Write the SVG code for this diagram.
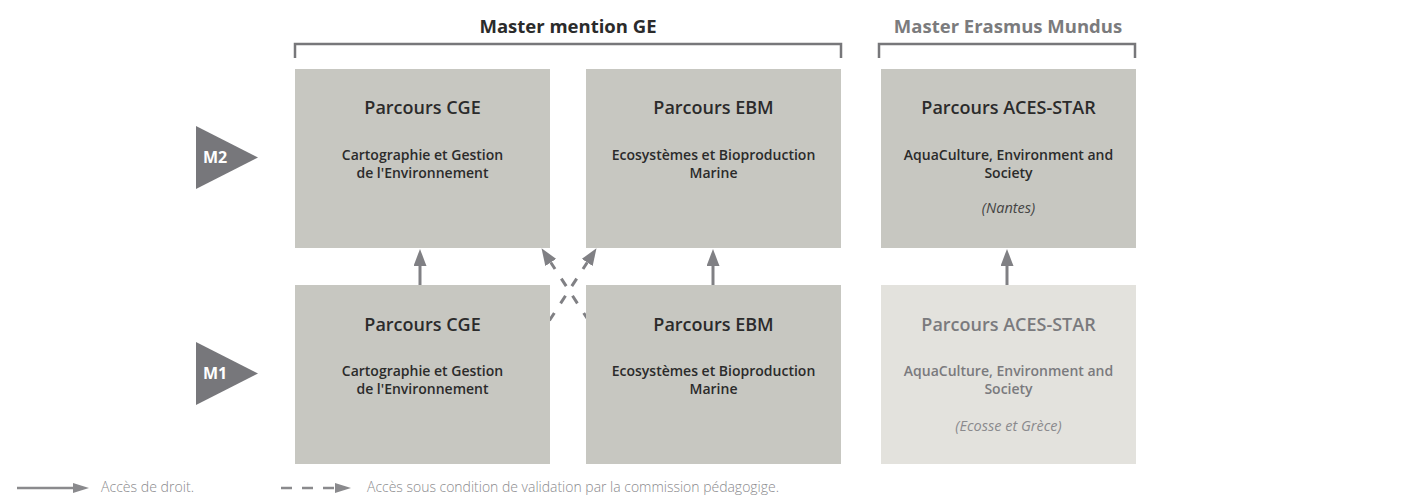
<svg xmlns="http://www.w3.org/2000/svg" width="1419" height="497" viewBox="0 0 1419 497">
<style>
.box{fill:#c7c7c1}
.boxl{fill:#e3e2dd}
.t{font-family:"Open Sans","Noto Sans","Liberation Sans",sans-serif;text-anchor:middle}
.ttl{font-size:18px;font-weight:600;fill:#2b2b2b}
.sub{font-size:14px;font-weight:600;fill:#2b2b2b}
.it{font-size:14.5px;font-style:italic;fill:#444}
.lt{fill:#7a7a7d}
.head{font-size:18.5px;font-weight:700}
.lvl{font-size:16px;font-weight:700;fill:#fff}
.tri{fill:#77777b}
.br{fill:none;stroke:#77777a;stroke-width:2.5}
.ar{stroke:#808084;stroke-width:3;fill:none}
.dash{stroke-dasharray:9 11.5}
.leg{font-family:"Open Sans","Noto Sans","Liberation Sans",sans-serif;font-size:14px;font-weight:300;fill:#8a8a8d}
</style>
<defs>
<marker id="ah" viewBox="0 0 17 13" refX="0" refY="6.5" markerWidth="17" markerHeight="13" markerUnits="userSpaceOnUse" orient="auto">
<path d="M0,0 L17,6.5 L0,13 z" fill="#808084"/>
</marker>
<marker id="ahs" viewBox="0 0 16 10" refX="0" refY="5" markerWidth="16" markerHeight="10" markerUnits="userSpaceOnUse" orient="auto">
<path d="M0,0 L16,5 L0,10 z" fill="#8a8a8d"/>
</marker>
</defs>

<g id="headers">
<text class="t head" x="568" y="33" fill="#2b2b2b">Master mention GE</text>
<path class="br" d="M295,58 V44 H841 V58"/>
<text class="t head" x="1008" y="33" fill="#7b7b7d">Master Erasmus Mundus</text>
<path class="br" d="M879,58 V44 H1135 V58"/>
</g>

<g id="connectors">
<line class="ar" x1="420" y1="285" x2="420" y2="266" marker-end="url(#ah)"/>
<line class="ar" x1="713" y1="285" x2="713" y2="266" marker-end="url(#ah)"/>
<line class="ar" x1="1007" y1="285" x2="1007" y2="266" marker-end="url(#ah)"/>
<path class="ar dash" d="M549.4,320.5 L587.2,262.5" marker-end="url(#ah)"/>
<path class="ar dash" d="M588.6,320.5 L550.8,262.5" marker-end="url(#ah)"/>
</g>

<g id="level-m2">
<polygon class="tri" points="196,126 258,157.5 196,189"/>
<text class="t lvl" x="215" y="163">M2</text>
</g>
<g id="level-m1">
<polygon class="tri" points="196,342 258,373.5 196,405"/>
<text class="t lvl" x="215" y="379">M1</text>
</g>

<g id="m2-cge">
<rect class="box" x="295" y="69" width="255" height="179"/>
<text class="t ttl" x="422.5" y="114">Parcours CGE</text>
<text class="t sub" x="422.5" y="160">Cartographie et Gestion</text>
<text class="t sub" x="422.5" y="178">de l'Environnement</text>
</g>
<g id="m2-ebm">
<rect class="box" x="586" y="69" width="255" height="179"/>
<text class="t ttl" x="713.5" y="114">Parcours EBM</text>
<text class="t sub" x="713.5" y="160">Ecosystèmes et Bioproduction</text>
<text class="t sub" x="713.5" y="178">Marine</text>
</g>
<g id="m2-aces">
<rect class="box" x="881" y="69" width="255" height="179"/>
<text class="t ttl" x="1008.5" y="114">Parcours ACES-STAR</text>
<text class="t sub" x="1008.5" y="160">AquaCulture, Environment and</text>
<text class="t sub" x="1008.5" y="178">Society</text>
<text class="t it" x="1008.5" y="213">(Nantes)</text>
</g>

<g id="m1-cge">
<rect class="box" x="295" y="285" width="255" height="179"/>
<text class="t ttl" x="422.5" y="331">Parcours CGE</text>
<text class="t sub" x="422.5" y="376">Cartographie et Gestion</text>
<text class="t sub" x="422.5" y="394">de l'Environnement</text>
</g>
<g id="m1-ebm">
<rect class="box" x="586" y="285" width="255" height="179"/>
<text class="t ttl" x="713.5" y="331">Parcours EBM</text>
<text class="t sub" x="713.5" y="376">Ecosystèmes et Bioproduction</text>
<text class="t sub" x="713.5" y="394">Marine</text>
</g>
<g id="m1-aces">
<rect class="boxl" x="881" y="285" width="255" height="179"/>
<text class="t ttl lt" x="1008.5" y="331">Parcours ACES-STAR</text>
<text class="t sub lt" x="1008.5" y="376">AquaCulture, Environment and</text>
<text class="t sub lt" x="1008.5" y="394">Society</text>
<text class="t it" x="1008.5" y="431" style="fill:#8a8a8d">(Ecosse et Grèce)</text>
</g>

<g id="legend">
<line x1="17" y1="488" x2="73" y2="488" stroke="#8a8a8d" stroke-width="2.5" marker-end="url(#ahs)"/>
<text class="leg" x="101" y="492" textLength="93" lengthAdjust="spacingAndGlyphs">Accès de droit.</text>
<line x1="281" y1="488" x2="335" y2="488" stroke="#8a8a8d" stroke-width="2.5" stroke-dasharray="11 10" marker-end="url(#ahs)"/>
<text class="leg" x="367" y="492" textLength="412" lengthAdjust="spacingAndGlyphs">Accès sous condition de validation par la commission pédagogige.</text>
</g>
</svg>
